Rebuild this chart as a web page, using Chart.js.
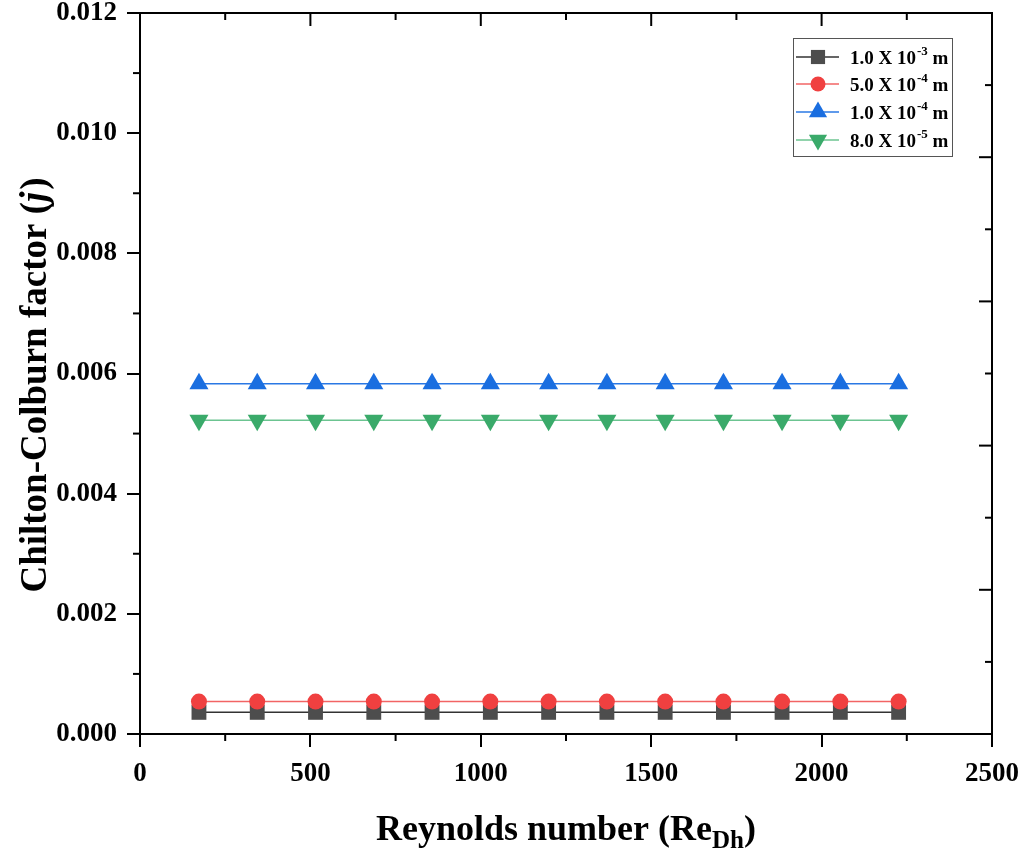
<html>
  <head>
    <script src="https://cdn.jsdelivr.net/npm/chart.js@4/dist/chart.umd.min.js"></script>
    <style>
      body { margin: 0; background: #fff; }
      #wrap { width: 1025px; height: 854px; }
    </style>
  </head>
  <body>
    <div id="wrap"><canvas id="chart" width="1025" height="854"></canvas></div>
    <script>
      // Reynolds number at each point
      var reynolds = [173, 344, 515, 686, 857, 1028, 1199, 1370, 1541, 1712, 1884, 2055, 2226];

      // Chilton-Colburn factor for each hole size
      var j1e3 = [0.00036, 0.00036, 0.00036, 0.00036, 0.00036, 0.00036, 0.00036, 0.00036, 0.00036, 0.00036, 0.00036, 0.00036, 0.00036];
      var j5e4 = [0.00054, 0.00054, 0.00054, 0.00054, 0.00054, 0.00054, 0.00054, 0.00054, 0.00054, 0.00054, 0.00054, 0.00054, 0.00054];
      var j1e4 = [0.00583, 0.00583, 0.00583, 0.00583, 0.00583, 0.00583, 0.00583, 0.00583, 0.00583, 0.00583, 0.00583, 0.00583, 0.00583];
      var j8e5 = [0.00522, 0.00522, 0.00522, 0.00522, 0.00522, 0.00522, 0.00522, 0.00522, 0.00522, 0.00522, 0.00522, 0.00522, 0.00522];

      var legendBase = ['1.0 X 10', '5.0 X 10', '1.0 X 10', '8.0 X 10'];
      var legendExp = ['-3', '-4', '-4', '-5'];

      var xTicks = [0, 500, 1000, 1500, 2000, 2500];
      var yTicks = [0, 0.002, 0.004, 0.006, 0.008, 0.010, 0.012];

      var serif = '"Liberation Serif", "Times New Roman", serif';

      function pts(ys) {
        return reynolds.map((x, i) => ({ x: x, y: ys[i] }));
      }

      var datasets = [
        { data: pts(j1e3), borderColor: '#333333', backgroundColor: '#4d4d4d', pointStyle: 'rect', pointRadius: 10.5, order: 4 },
        { data: pts(j5e4), borderColor: '#f26464', backgroundColor: '#f04040', pointStyle: 'circle', pointRadius: 8, order: 3 },
        { data: pts(j1e4), borderColor: '#2a78e4', backgroundColor: '#1a6ee0', pointStyle: 'triangle', pointRadius: 11, order: 2 },
        { data: pts(j8e5), borderColor: '#6cc491', backgroundColor: '#3aaa6a', pointStyle: 'triangle', pointRotation: 180, pointRadius: 11, order: 1 }
      ];
      datasets.forEach(d => {
        d.borderWidth = 1.5;
        d.pointBorderWidth = 0;
        d.pointBackgroundColor = d.backgroundColor;
        d.pointHoverRadius = d.pointRadius;
      });

      function tick(ctx, x1, y1, x2, y2) {
        ctx.beginPath();
        ctx.moveTo(x1, y1);
        ctx.lineTo(x2, y2);
        ctx.stroke();
      }

      var framePlugin = {
        id: 'frame',
        afterDraw(chart) {
          var ctx = chart.ctx;
          var a = chart.chartArea;
          var xs = chart.scales.x, ys = chart.scales.y, yr = chart.scales.y2;
          ctx.save();
          ctx.strokeStyle = '#000';
          ctx.lineWidth = 2;
          ctx.strokeRect(a.left, a.top, a.right - a.left, a.bottom - a.top);

          // bottom minor (outward), top major+minor (inward)
          for (var v = 0; v <= 2500; v += 250) {
            var px = xs.getPixelForValue(v);
            var major = v % 500 === 0;
            if (!major) tick(ctx, px, a.bottom, px, a.bottom + 7);
            tick(ctx, px, a.top, px, a.top + (major ? 13 : 7));
          }
          // left minor (outward)
          for (var k = 1; k < 12; k += 2) {
            var py = ys.getPixelForValue(k * 0.001);
            tick(ctx, a.left, py, a.left - 7, py);
          }
          // right axis (inward), its own 5-step scale
          for (var r = 0; r <= 10; r++) {
            var pr = yr.getPixelForValue(r * 0.5);
            tick(ctx, a.right, pr, a.right - (r % 2 === 0 ? 13 : 7), pr);
          }

          // axis titles
          ctx.fillStyle = '#000';
          ctx.textBaseline = 'alphabetic';
          var f = 'bold 36px ' + serif, fs = 'bold 25px ' + serif;
          ctx.font = f;
          var t1 = 'Reynolds number (Re', t3 = ')';
          var w1 = ctx.measureText(t1).width, w3 = ctx.measureText(t3).width;
          ctx.font = fs;
          var w2 = ctx.measureText('Dh').width;
          var cx = (a.left + a.right) / 2;
          var x0 = cx - (w1 + w2 + w3) / 2;
          var by = 840;
          ctx.font = f;
          ctx.fillText(t1, x0, by);
          ctx.font = fs;
          ctx.fillText('Dh', x0 + w1, by + 8);
          ctx.font = f;
          ctx.fillText(t3, x0 + w1 + w2, by);

          ctx.save();
          ctx.translate(46, 386);
          ctx.rotate(-Math.PI / 2);
          var g = 'bold 37px ' + serif, gi = 'bold italic 37px ' + serif;
          var s1 = 'Chilton-Colburn factor (', s2 = 'j', s3 = ')';
          ctx.font = g;
          var u1 = ctx.measureText(s1).width, u3 = ctx.measureText(s3).width;
          ctx.font = gi;
          var u2 = ctx.measureText(s2).width;
          var sx = -(u1 + u2 + u3) / 2;
          ctx.font = g;
          ctx.fillText(s1, sx, 0);
          ctx.font = gi;
          ctx.fillText(s2, sx + u1, 0);
          ctx.font = g;
          ctx.fillText(s3, sx + u1 + u2 + 2, 0);
          ctx.restore();

          // legend box
          var lx = 793, ly = 38, lw = 159, lh = 118;
          ctx.lineWidth = 1;
          ctx.strokeStyle = '#555';
          ctx.strokeRect(lx + 0.5, ly + 0.5, lw, lh);
          var rowY = [57, 84, 112, 140];
          [0, 1, 2, 3].forEach(i => {
            var d = chart.data.datasets[i];
            var yy = rowY[i];
            ctx.strokeStyle = d.borderColor;
            ctx.lineWidth = 1.5;
            tick(ctx, 796, yy, 839, yy);
            ctx.fillStyle = d.backgroundColor;
            var rad = d.pointStyle === 'rect' ? 10 : (d.pointStyle === 'circle' ? 7.5 : 10.5);
            Chart.helpers.drawPoint(ctx, { pointStyle: d.pointStyle, rotation: d.pointRotation || 0, radius: rad, borderWidth: 0 }, 818, yy);
            ctx.fillStyle = '#000';
            ctx.font = 'bold 19px ' + serif;
            var base = legendBase[i];
            ctx.fillText(base, 850, yy + 7);
            var bw = ctx.measureText(base).width;
            ctx.font = 'bold 13px ' + serif;
            ctx.fillText(legendExp[i], 850 + bw + 1, yy - 2);
            var ew = ctx.measureText(legendExp[i]).width;
            ctx.font = 'bold 19px ' + serif;
            ctx.fillText(' m', 850 + bw + ew + 1, yy + 7);
          });
          ctx.restore();
        }
      };

      new Chart(document.getElementById('chart'), {
        type: 'line',
        data: { datasets: datasets },
        options: {
          responsive: false,
          animation: false,
          events: [],
          layout: { padding: { left: 0, top: 13, right: 33, bottom: 0 } },
          plugins: { legend: { display: false }, tooltip: { enabled: false } },
          scales: {
            x: {
              type: 'linear',
              min: 0,
              max: 2500,
              afterBuildTicks: s => { s.ticks = xTicks.map(v => ({ value: v })); },
              afterFit: s => { s.height = 120; s.paddingLeft = 0; s.paddingRight = 0; },
              grid: { drawOnChartArea: false, drawTicks: true, tickLength: 13, color: '#000', lineWidth: 2 },
              border: { display: false },
              ticks: {
                color: '#000',
                padding: 11,
                maxRotation: 0,
                font: { family: serif, size: 27, weight: 'bold' },
                callback: v => String(v)
              }
            },
            y: {
              min: 0,
              max: 0.012,
              afterBuildTicks: s => { s.ticks = yTicks.map(v => ({ value: v })); },
              afterFit: s => { s.width = 140; s.paddingTop = 0; s.paddingBottom = 0; },
              grid: { drawOnChartArea: false, drawTicks: true, tickLength: 13, color: '#000', lineWidth: 2 },
              border: { display: false },
              ticks: {
                color: '#000',
                padding: 10,
                font: { family: serif, size: 27, weight: 'bold' },
                callback: v => v.toFixed(3)
              }
            },
            y2: { type: 'linear', position: 'right', display: false, min: 0, max: 5 }
          }
        },
        plugins: [framePlugin]
      });
    </script>
  </body>
</html>
